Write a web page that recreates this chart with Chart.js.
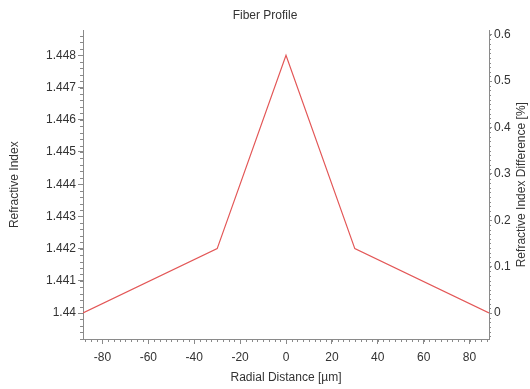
<!DOCTYPE html>
<html>
<head>
<meta charset="utf-8">
<script src="https://cdn.jsdelivr.net/npm/chart.js@4"></script>
<style>
  body { margin: 0; background: #fff; }
  canvas { display: block; }
</style>
</head>
<body>
<canvas id="myChart" width="530" height="389"></canvas>
<script>
// profile points (radial distance in um, refractive index)
const radius = [-88.5, -30, 0, 30, 88.5];
const refIndex = [1.44, 1.442, 1.448, 1.442, 1.44];

// tick labels
const xTicks = [-80, -60, -40, -20, 0, 20, 40, 60, 80];
const leftTicks = [1.44, 1.441, 1.442, 1.443, 1.444, 1.445, 1.446, 1.447, 1.448];
const rightTicks = [0, 0.1, 0.2, 0.3, 0.4, 0.5, 0.6];

const ctx = document.getElementById("myChart");
const axisColor = "#8a8a8a";
const textColor = "#333";
const fontFam = "'Liberation Sans', Arial, sans-serif";

// cladding index, used to map the right axis
const nClad = 1.44;
const leftMin = 1.439194;
const leftMax = 1.448775;

function toTicks(list) {
  return list.map(function (v) {
    return { value: v };
  });
}

// small minor ticks + right axis title (reads bottom to top)
const extras = {
  id: "extras",
  afterDraw(chart) {
    const c = chart.ctx;
    const x = chart.scales.x;
    const y = chart.scales.y;
    const y1 = chart.scales.y1;
    c.save();
    c.strokeStyle = axisColor;
    c.lineWidth = 1;
    c.beginPath();
    for (let v = -87.5; v <= 88.5; v += 2.5) {
      const px = Math.round(x.getPixelForValue(v)) + 0.5;
      c.moveTo(px, x.top);
      c.lineTo(px, x.top + 3);
    }
    for (let i = 0; i < 60; i++) {
      const v = 1.4392 + i * 0.0002;
      if (v > leftMax) break;
      const py = Math.round(y.getPixelForValue(v)) + 0.5;
      c.moveTo(y.right, py);
      c.lineTo(y.right - 3, py);
    }
    for (let i = -5; i <= 60; i++) {
      const v = i * 0.01;
      if (v < y1.min || v > y1.max) continue;
      const py = Math.round(y1.getPixelForValue(v)) + 0.5;
      c.moveTo(y1.left, py);
      c.lineTo(y1.left + 2, py);
    }
    c.stroke();

    c.fillStyle = textColor;
    c.font = "12px " + fontFam;
    c.textAlign = "center";
    c.textBaseline = "middle";
    c.translate(522, (chart.chartArea.top + chart.chartArea.bottom) / 2);
    c.rotate(-Math.PI / 2);
    c.fillText("Refractive Index Difference [%]", 0, 0);
    c.restore();
  },
};

new Chart(ctx, {
  type: "line",
  data: {
    datasets: [
      {
        label: "Refractive Index",
        data: radius.map(function (r, i) {
          return { x: r, y: refIndex[i] };
        }),
        borderColor: "#e35757",
        borderWidth: 1.2,
        pointRadius: 0,
        tension: 0,
        yAxisID: "y",
      },
    ],
  },
  plugins: [extras],
  options: {
    responsive: false,
    animation: false,
    layout: { padding: 0 },
    plugins: {
      legend: { display: false },
      tooltip: { enabled: false },
      title: {
        display: true,
        text: "Fiber Profile",
        color: textColor,
        font: { family: fontFam, size: 12, weight: "normal" },
        padding: { top: 8, bottom: 8 },
      },
    },
    scales: {
      x: {
        type: "linear",
        min: -88.5,
        max: 88.5,
        afterFit: function (s) { s.height = 50; },
        afterBuildTicks: function (s) { s.ticks = toTicks(xTicks); },
        grid: { drawOnChartArea: false, color: axisColor, tickLength: 5 },
        border: { color: axisColor },
        ticks: {
          color: textColor,
          padding: 6,
          maxRotation: 0,
          font: { family: fontFam, size: 12 },
          callback: function (v) { return String(v); },
        },
        title: {
          display: true,
          text: "Radial Distance [µm]",
          color: textColor,
          font: { family: fontFam, size: 12 },
          padding: { top: 0, bottom: 4 },
        },
      },
      y: {
        position: "left",
        min: leftMin,
        max: leftMax,
        afterFit: function (s) { s.width = 83; },
        afterBuildTicks: function (s) { s.ticks = toTicks(leftTicks); },
        grid: { drawOnChartArea: false, color: axisColor, tickLength: 5 },
        border: { color: axisColor },
        ticks: {
          color: textColor,
          padding: 2,
          font: { family: fontFam, size: 12 },
          callback: function (v) { return String(v); },
        },
        title: {
          display: true,
          text: "Refractive Index",
          color: textColor,
          font: { family: fontFam, size: 12 },
          padding: { top: 7, bottom: 0 },
        },
      },
      y1: {
        position: "right",
        min: ((leftMin - nClad) / nClad) * 100,
        max: ((leftMax - nClad) / nClad) * 100,
        afterFit: function (s) { s.width = 41; },
        afterBuildTicks: function (s) { s.ticks = toTicks(rightTicks); },
        grid: { drawOnChartArea: false, color: axisColor, tickLength: 3 },
        border: { color: axisColor },
        ticks: {
          color: textColor,
          padding: 2,
          font: { family: fontFam, size: 12 },
          callback: function (v) { return String(v); },
        },
      },
    },
  },
});
</script>
</body>
</html>
